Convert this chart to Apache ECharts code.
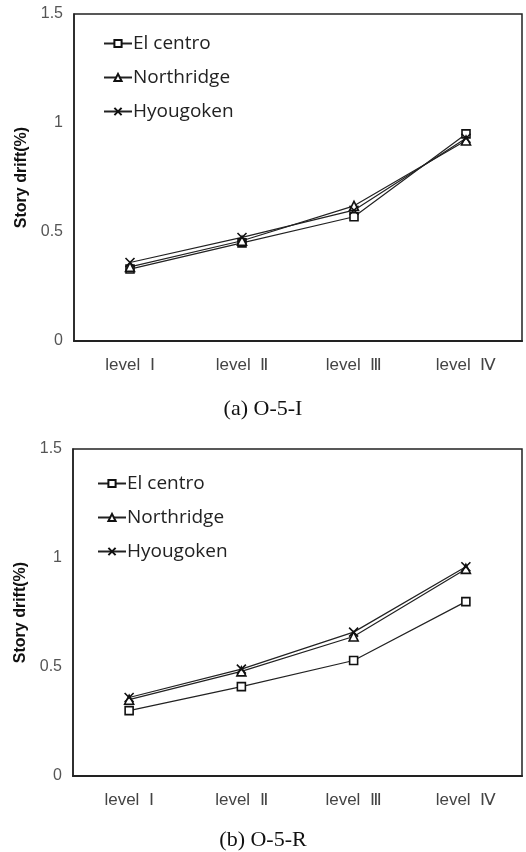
<!DOCTYPE html>
<html>
<head>
<meta charset="utf-8">
<script src="https://cdn.jsdelivr.net/npm/echarts@6/dist/echarts.min.js"></script>
<style>html,body{margin:0;padding:0;background:#fff}#c{width:526px;height:852px}</style>
</head>
<body>
<div id="c"></div>
<script>
const categories = ['level  Ⅰ', 'level  Ⅱ', 'level  Ⅲ', 'level  Ⅳ'];
const seriesNames = ['El centro', 'Northridge', 'Hyougoken'];
const yTicks = [0, 0.5, 1, 1.5];
// (a) O-5-I
const aElCentro = [0.33, 0.45, 0.57, 0.95];
const aNorthridge = [0.34, 0.46, 0.62, 0.92];
const aHyougoken = [0.36, 0.475, 0.60, 0.93];
// (b) O-5-R
const bElCentro = [0.30, 0.41, 0.53, 0.80];
const bNorthridge = [0.35, 0.48, 0.64, 0.95];
const bHyougoken = [0.36, 0.49, 0.66, 0.96];
const captions = ['(a) O-5-I', '(b) O-5-R'];

const chart = echarts.init(document.getElementById('c'));
const xPath = 'path://M0,0L10,10M10,0L0,10';
const symbols = ['rect', 'triangle', xPath];
const symSizes = [8, 9, 9];
const sans = 'Liberation Sans, Arial, sans-serif';
const legendFont = 'Open Sans, Noto Sans, sans-serif';
const serif = 'Liberation Serif, serif';

function mkSeries(idx, data, name, si) {
  return {
    type: 'line', name: name, xAxisIndex: idx, yAxisIndex: idx, data: data,
    symbol: symbols[si], symbolSize: symSizes[si], showSymbol: true,
    lineStyle: {color: '#222', width: 1.2},
    itemStyle: {color: '#fff', borderColor: '#111', borderWidth: 1.6},
    emphasis: {disabled: true}, animation: false
  };
}
function yAxis(idx) {
  return {
    gridIndex: idx, type: 'value', min: 0, max: 1.5, interval: 0.5,
    name: 'Story drift(%)', nameLocation: 'middle', nameGap: 44,
    nameTextStyle: {fontFamily: sans, fontWeight: 'bold', fontSize: 16, color: '#111'},
    axisLine: {show: true, lineStyle: {color: '#222', width: 1.5}},
    axisTick: {show: false}, splitLine: {show: false},
    axisLabel: {fontFamily: sans, fontSize: 16, color: '#555', margin: 11,
      formatter: v => yTicks.includes(v) ? String(v) : ''}
  };
}
function xAxis(idx) {
  return {
    gridIndex: idx, type: 'category', data: categories, boundaryGap: true,
    axisLine: {show: true, lineStyle: {color: '#222', width: 2.2}},
    axisTick: {show: false}, splitLine: {show: false},
    axisLabel: {fontFamily: sans, fontSize: 17, color: '#444', margin: 16}
  };
}
function legend(top, left, names) {
  return {
    show: true, orient: 'vertical', left: left, top: top, itemGap: 15,
    itemWidth: 28, itemHeight: 9,
    data: names.map(n => ({name: n})),
    textStyle: {fontFamily: legendFont, fontSize: 19, color: '#222', padding: [0,0,0,-4]},
    selectedMode: false
  };
}
chart.setOption({
  backgroundColor: '#fff',
  animation: false,
  title: [
    {text: captions[0], left: 'center', top: 393, textStyle: {fontFamily: serif, fontSize: 22, fontWeight: 'normal', color: '#111'}},
    {text: captions[1], left: 'center', top: 824, textStyle: {fontFamily: serif, fontSize: 22, fontWeight: 'normal', color: '#111'}}
  ],
  grid: [
    {left: 74, top: 14, width: 448, height: 327, show: true, borderColor: '#222', borderWidth: 1.5, backgroundColor: 'transparent'},
    {left: 73, top: 449, width: 449, height: 327, show: true, borderColor: '#222', borderWidth: 1.5, backgroundColor: 'transparent'}
  ],
  xAxis: [xAxis(0), xAxis(1)],
  yAxis: [yAxis(0), yAxis(1)],
  legend: [
    legend(29, 98, seriesNames),
    legend(469, 92, seriesNames.map(n => n + ' '))
  ],
  series: [
    mkSeries(0, aElCentro, seriesNames[0], 0),
    mkSeries(0, aNorthridge, seriesNames[1], 1),
    mkSeries(0, aHyougoken, seriesNames[2], 2),
    mkSeries(1, bElCentro, seriesNames[0] + ' ', 0),
    mkSeries(1, bNorthridge, seriesNames[1] + ' ', 1),
    mkSeries(1, bHyougoken, seriesNames[2] + ' ', 2)
  ]
});
</script>
</body>
</html>
